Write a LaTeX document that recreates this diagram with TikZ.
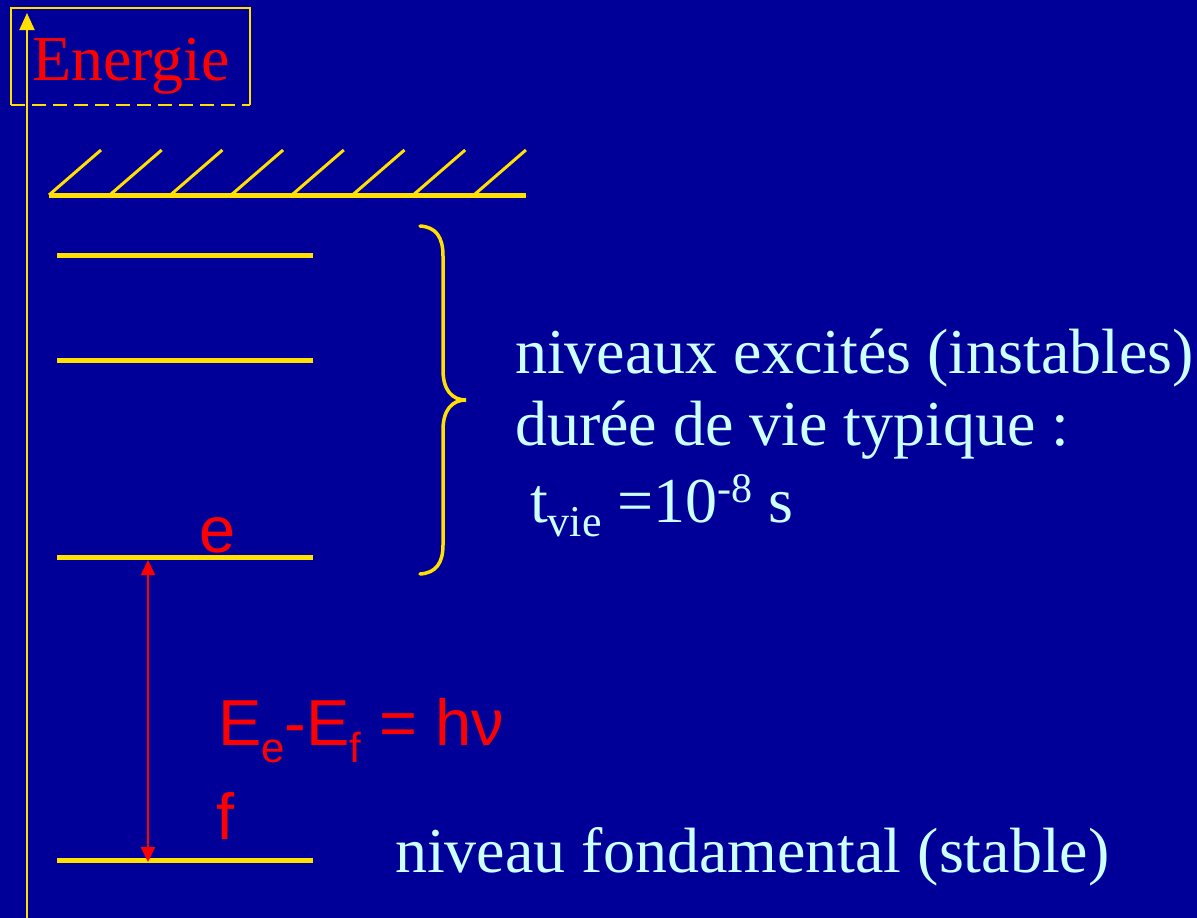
\documentclass[tikz,border=0pt]{standalone}
\usepackage{fontspec}
\setmainfont{Liberation Serif}
\newfontfamily\arialfont{Liberation Sans}
\usetikzlibrary{arrows.meta}
\definecolor{bgblue}{HTML}{000099}
\definecolor{gold}{HTML}{FFE000}
\definecolor{pale}{HTML}{CCFFFF}
\definecolor{hot}{HTML}{FF0000}

\begin{document}
\begin{tikzpicture}[
x=1pt,y=-1pt,
level/.style={draw=gold,line width=5pt},
hatch/.style={draw=gold,line width=3pt},
lbl/.style={text=pale,font=\fontsize{64}{72}\selectfont,anchor=base west,inner sep=0pt},
tag/.style={text=hot,font=\arialfont\fontsize{65}{72}\selectfont,anchor=base west,inner sep=0pt},
arr/.style={{Triangle[length=15pt,width=14pt]}-{Triangle[length=15pt,width=14pt]},draw=hot,line width=2pt}
]
\fill[bgblue] (0,0) rectangle (1197,918);
\useasboundingbox (0,0) rectangle (1197,918);
% energy axis and its title box
\coordinate (ax0) at (27,918);
\coordinate (ax1) at (27,13);
\draw[gold,line width=2pt,-{Triangle[length=17pt,width=15pt]}] (ax0)--(ax1);
\node[anchor=base west,inner sep=0pt,text=hot,font=\fontsize{64}{72}\selectfont] (energie) at (32,80) {Energie};
\coordinate (bx1) at (11,105);\coordinate (bx2) at (11,8);
\coordinate (bx3) at (250,8);\coordinate (bx4) at (250,105);
\draw[gold,line width=2pt] (bx1)--(bx2)--(bx3)--(bx4);
\draw[gold,line width=2pt,dash pattern=on 14pt off 7pt] (bx1)--(bx4);
% ionisation limit
\coordinate (ionw) at (49,195);
\coordinate (ione) at (526,195);
\draw[level] (ionw)--(ione);
\foreach \i in {0,...,7}
  \draw[hatch] (49+60.7*\i,195) -- ++(52,-45);
% levels
\foreach \name/\y in {l3/255,l2/360,le/557,lf/860}{
  \coordinate (\name w) at (57,\y);
  \coordinate (\name e) at (313,\y);
  \draw[level] (\name w)--(\name e);
}
\coordinate (tope) at (148,560);
\coordinate (topf) at (148,862);
\draw[arr] (topf)--(tope);
\node[tag] (etag) at (199,552) {e};
\node[tag] (ftag) at (216,839) {f};
\node[tag] (delta) at (218,745) {E\raisebox{-0.27em}{\fontsize{42}{42}\selectfont e}-E\raisebox{-0.27em}{\fontsize{42}{42}\selectfont f} = hν};
% excited levels brace
\draw[gold,line width=3.5pt,line cap=round] (420,226) .. controls (436,227) and (443,237) .. (443,256) -- (443,370)
  .. controls (443,390) and (452,400) .. (466,400)
  .. controls (452,400) and (443,410) .. (443,430) -- (443,545)
  .. controls (443,563) and (436,573) .. (420,574);
\node[lbl] (exc1) at (515,373) {niveaux excités (instables)};
\node[lbl] (exc2) at (515,445) {durée de vie typique :};
\node[lbl] (exc3) at (530,522) {t\raisebox{-0.23em}{\fontsize{44}{44}\selectfont vie} =10\raisebox{0.31em}{\fontsize{42}{42}\selectfont -8} s};
\node[lbl] (fond) at (395,872) {niveau fondamental (stable)};
\end{tikzpicture}
\end{document}
